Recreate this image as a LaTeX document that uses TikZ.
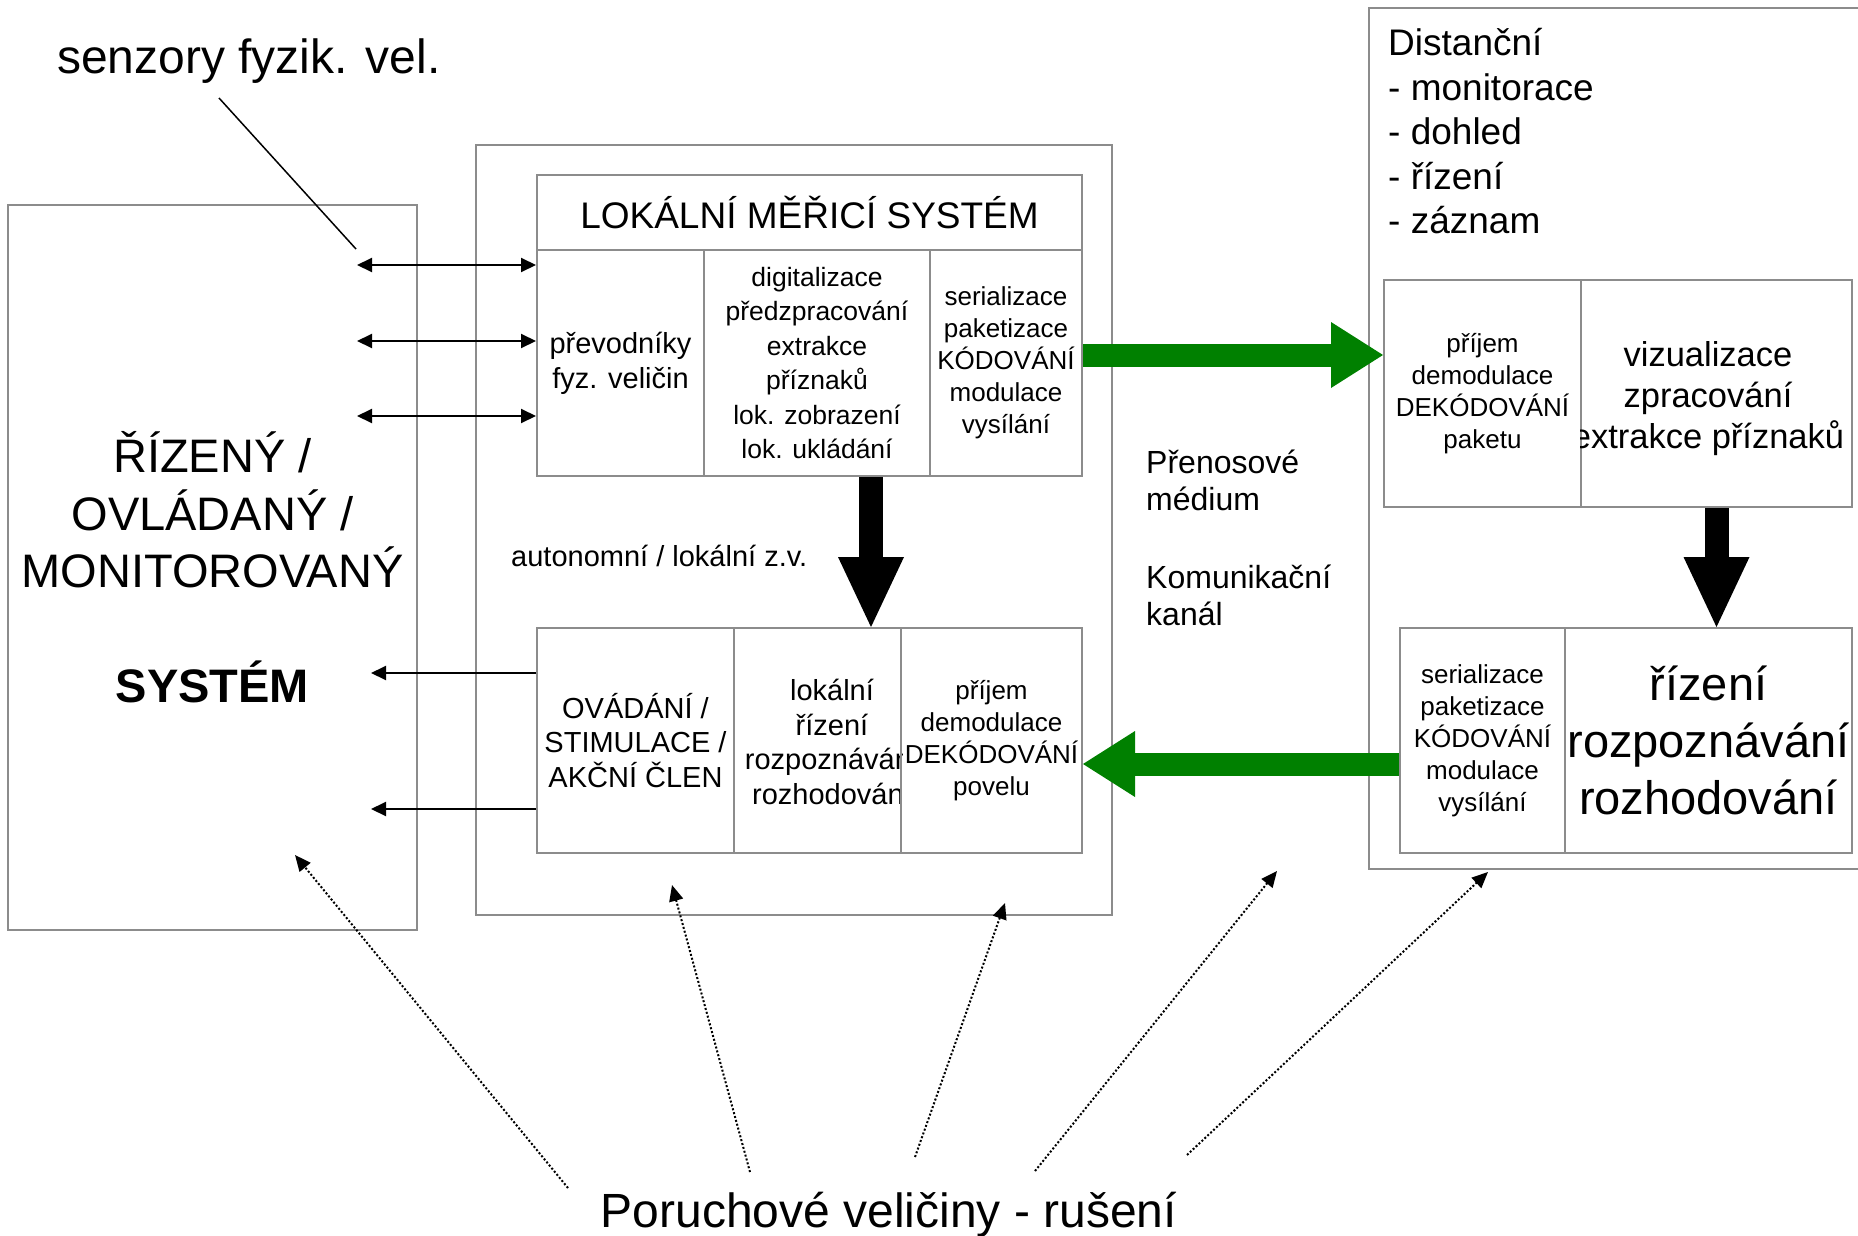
\documentclass[tikz,border=0pt]{standalone}
\usepackage{fontspec}
\setmainfont{Liberation Sans}
\usetikzlibrary{arrows.meta,calc}
\definecolor{boxgray}{RGB}{140,140,140}
\definecolor{arrowgreen}{RGB}{0,128,0}

\begin{document}
\begin{tikzpicture}[x=1pt,y=-1pt,
  cell/.style={draw=boxgray,line width=2pt,inner sep=0pt,align=center},
  small/.style={font=\fontsize{26}{32}\selectfont},
  wire/.style={line width=2pt},
  >={Triangle[length=15pt,width=14pt]},
  greenarrow/.style={draw=arrowgreen,line width=23pt,-{Triangle[length=52pt,width=66pt,line width=0pt,color=arrowgreen]}},
  blackarrow/.style={line width=24pt,-{Triangle[length=70pt,width=66pt,line width=0pt]}},
  dotarrow/.style={line width=2pt,dash pattern=on 2pt off 2pt,-{Triangle[length=16pt,width=14pt]}}]
\useasboundingbox (0,0) rectangle (1858,1236);

% controlled system
\node[cell,minimum width=409pt,minimum height=725pt,font=\fontsize{47}{57.5}\selectfont] (sys) at (212.5,567.5)
  {ŘÍZENÝ /\\OVLÁDANÝ /\\MONITOROVANÝ\\[57.5pt]\textbf{SYSTÉM}};

% local measuring system
\node[cell,minimum width=636pt,minimum height=770pt] (loc) at (794,530) {};
\node[cell,minimum width=545pt,minimum height=75pt,font=\fontsize{37}{44}\selectfont] (head) at (809.5,212.5) {LOKÁLNÍ MĚŘICÍ SYSTÉM};
\node[cell,minimum width=167pt,minimum height=226pt,font=\fontsize{29}{35}\selectfont] (conv) at (620.5,363) {převodníky\\fyz. veličin};
\node[cell,minimum width=226pt,minimum height=226pt,font=\fontsize{26.5}{34.4}\selectfont] (proc) at (817,363)
  {digitalizace\\předzpracování\\extrakce\\příznaků\\lok. zobrazení\\lok. ukládání};
\node[cell,small,minimum width=152pt,minimum height=226pt] (tx) at (1006,363)
  {serializace\\paketizace\\KÓDOVÁNÍ\\modulace\\vysílání};
\node[cell,minimum width=197pt,minimum height=225pt,font=\fontsize{29}{34.5}\selectfont] (act) at (635.5,740.5)
  {OVÁDÁNÍ /\\STIMULACE /\\AKČNÍ ČLEN};
\node[cell,minimum width=167pt,minimum height=225pt] (ctrl) at (817.5,740.5) {};
\begin{scope}
  \clip (ctrl.south west) rectangle (ctrl.north east);
  \node[align=center,inner sep=0pt,font=\fontsize{29}{34.7}\selectfont] (ctrltext) at (832,742)
    {lokální\\řízení\\rozpoznávání\\rozhodování};
\end{scope}
\node[cell,small,minimum width=181pt,minimum height=225pt] (rx) at (991.5,740.5)
  {příjem\\demodulace\\DEKÓDOVÁNÍ\\povelu};
\node[anchor=west,inner sep=0pt,font=\fontsize{29}{35}\selectfont] (auto) at (511,556) {autonomní / lokální z.v.};

% channel
\node[anchor=west,align=left,inner sep=0pt,font=\fontsize{32}{37}\selectfont] (medium) at (1146,480.5) {Přenosové\\médium};
\node[anchor=west,align=left,inner sep=0pt,font=\fontsize{32}{37}\selectfont] (chan) at (1146,595.5) {Komunikační\\kanál};

% remote side
\node[draw=boxgray,line width=2pt,minimum width=531pt,minimum height=861pt] (rem) at (1634.5,438.5) {};
\node[anchor=west,align=left,inner sep=0pt,font=\fontsize{37}{44.5}\selectfont] (remtext) at (1388,131.5)
  {Distanční\\- monitorace\\- dohled\\- řízení\\- záznam};
\node[cell,small,minimum width=197pt,minimum height=227pt] (rrx) at (1482.5,393.5)
  {příjem\\demodulace\\DEKÓDOVÁNÍ\\paketu};
\node[cell,minimum width=271pt,minimum height=227pt] (vis) at (1716.5,393.5) {};
\begin{scope}
  \clip (vis.south west) rectangle (vis.north east);
  \node[align=center,inner sep=0pt,font=\fontsize{34.5}{41}\selectfont] (vistext) at (1708,399)
    {vizualizace\\zpracování\\extrakce příznaků};
\end{scope}
\node[cell,small,minimum width=165pt,minimum height=225pt] (rtx) at (1482.5,740.5)
  {serializace\\paketizace\\KÓDOVÁNÍ\\modulace\\vysílání};
\node[cell,minimum width=287pt,minimum height=225pt,font=\fontsize{47}{57}\selectfont] (dec) at (1708.5,740.5)
  {řízení\\rozpoznávání\\rozhodování};

% sensors and actuators
\node[anchor=west,inner sep=0pt,font=\fontsize{48}{58}\selectfont] (sens) at (57,61) {senzory fyzik. vel.};
\coordinate (sline) at (219,98);
\coordinate (sp) at (356,249);
\draw[line width=1.5pt] (sline) -- (sp);
\foreach \i/\y in {1/265,2/341,3/416}{
  \coordinate (s\i) at (357,\y);
  \draw[wire,<->] (s\i) -- (s\i -| conv.west);
}
\foreach \i/\y in {1/673,2/809}{
  \coordinate (o\i) at (371,\y);
  \draw[wire,->] (o\i -| act.west) -- (o\i);
}

% data flow
\coordinate (up) at (0,355);
\coordinate (lo) at (0,764);
\coordinate (dnx) at (871,0);
\draw[greenarrow] (tx.east |- up) -- (rrx.west |- up);
\draw[greenarrow] (rtx.west |- lo) -- (rx.east |- lo);
\draw[blackarrow] (proc.south -| dnx) -- (dnx |- ctrl.north);
\draw[blackarrow] (vis.south) -- (vis.south |- dec.north);

% disturbances
\node[inner sep=0pt,font=\fontsize{48}{58}\selectfont] (dist) at (889,1215) {Poruchové veličiny - rušení};
\foreach \i/\xa/\ya/\xb/\yb in {1/568/1188/295/855,2/750/1172/672/885,3/915/1157/1005/903,4/1035/1171/1277/871,5/1187/1155/1488/872}{
  \coordinate (d\i) at (\xa,\ya);
  \coordinate (t\i) at (\xb,\yb);
  \draw[dotarrow] (d\i) -- (t\i);
}
\end{tikzpicture}
\end{document}
